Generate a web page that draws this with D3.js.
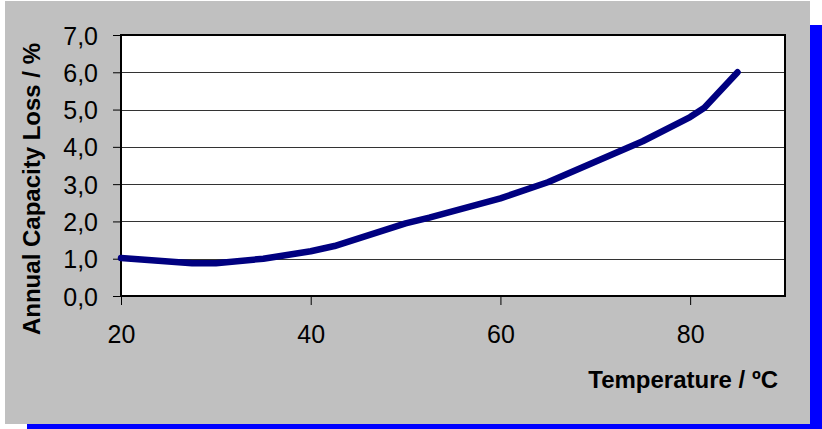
<!DOCTYPE html>
<html><head><meta charset="utf-8">
<script src="https://cdn.jsdelivr.net/npm/d3@7"></script>
<style>body{margin:0;background:#fff}svg{display:block}</style>
</head><body>
<svg id="c" width="822" height="429"></svg>
<script>
const temps  = [20, 27.5, 30, 35, 40, 42.5, 50, 52.5, 60, 65, 70, 75, 80, 81.5, 85];
const losses = [1.02, 0.88, 0.88, 1.0, 1.2, 1.34, 1.95, 2.1, 2.62, 3.05, 3.6, 4.15, 4.8, 5.05, 6.0];
const xTicks = [20, 40, 60, 80];
const yTicks = [0, 1, 2, 3, 4, 5, 6, 7];
const xTitle = "Temperature / ºC";
const yTitle = "Annual Capacity Loss / %";

const svg = d3.select("#c");
const font = "Arial, 'Liberation Sans', sans-serif";

// blue shadow + gray chart area
svg.append("rect").attr("x",810).attr("y",25).attr("width",12).attr("height",404).attr("fill","#0000ff");
svg.append("rect").attr("x",27).attr("y",424).attr("width",795).attr("height",5).attr("fill","#0000ff");
svg.append("rect").attr("x",5).attr("y",1).attr("width",805).attr("height",423).attr("fill","#c0c0c0");

const L=121, R=785, T=35, B=296;
const x = d3.scaleLinear().domain([20,90]).range([L,R]);
const y = d3.scaleLinear().domain([0,7]).range([B,T]);

// plot area
svg.append("rect").attr("x",L+1).attr("y",T+1).attr("width",R-L).attr("height",B-T).attr("fill","#a0a0a0");
svg.append("rect").attr("x",L).attr("y",T).attr("width",R-L).attr("height",B-T).attr("fill","#fff");

// gridlines
svg.append("g").selectAll("line").data(yTicks.filter(d=>d>0 && d<7)).join("line")
  .attr("x1",L).attr("x2",R).attr("y1",d=>Math.round(y(d))+0.5).attr("y2",d=>Math.round(y(d))+0.5)
  .attr("stroke","#333").attr("stroke-width",1);

// frame
svg.append("rect").attr("x",L).attr("y",T).attr("width",R-L).attr("height",B-T)
  .attr("fill","none").attr("stroke","#000").attr("stroke-width",2);

// axes
const yAxis = d3.axisLeft(y).tickValues(yTicks).tickSize(8).tickPadding(15)
  .tickFormat(d=>d3.format(".1f")(d).replace(".",","));
const gy = svg.append("g").attr("transform",`translate(${L},0)`).call(yAxis);
gy.select(".domain").remove();
gy.selectAll("line").attr("stroke","#000").attr("stroke-width",1);
gy.selectAll("text").attr("font-family",font).attr("font-size",25)
  .attr("fill","#000").attr("dy","0.36em");

const xAxis = d3.axisBottom(x).tickValues(xTicks).tickSize(9).tickPadding(20).tickFormat(d3.format("d"));
const gx = svg.append("g").attr("transform",`translate(0,${B})`).call(xAxis);
gx.select(".domain").remove();
gx.selectAll("line").attr("stroke","#000").attr("stroke-width",1);
gx.selectAll("text").attr("font-family",font).attr("font-size",25).attr("fill","#000");

// line
const data = temps.map((t,i)=>({t, v:losses[i]}));
svg.append("path").datum(data)
  .attr("d", d3.line().x(d=>x(d.t)).y(d=>y(d.v)))
  .attr("fill","none").attr("stroke","#000080").attr("stroke-width",6.5)
  .attr("stroke-linejoin","round").attr("stroke-linecap","round");

// titles
svg.append("text").attr("x",778).attr("y",388).attr("text-anchor","end")
  .attr("font-family",font).attr("font-weight","bold").attr("font-size",24)
  .text(xTitle);
svg.append("text").attr("transform","translate(40,189) rotate(-90)").attr("text-anchor","middle")
  .attr("font-family",font).attr("font-weight","bold").attr("font-size",24)
  .text(yTitle);
</script>
</body></html>
